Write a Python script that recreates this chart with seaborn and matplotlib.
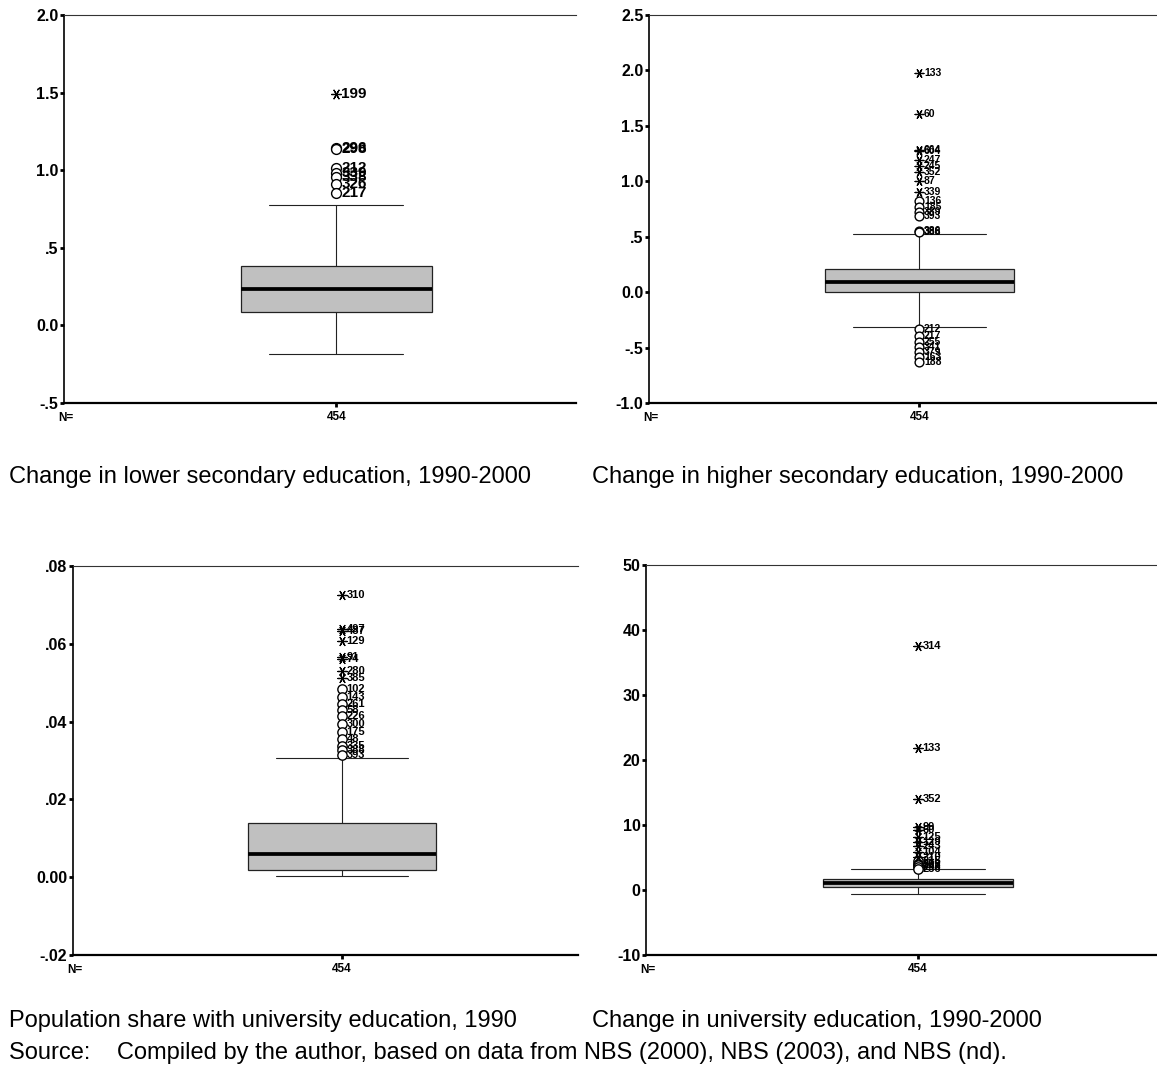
import matplotlib
matplotlib.use("Agg")
import matplotlib.pyplot as plt
import seaborn as sns

W, H = 1157, 1081

# --- data (whislo, q1, median, q3, whishi) ---
low_sec_stats = [-0.186, 0.089, 0.232, 0.385, 0.777]
low_sec_out_vals = [1.14, 1.138, 1.016, 0.98, 0.958, 0.913, 0.851]
low_sec_out_labels = ["296", "298", "212", "339", "338", "326", "217"]
low_sec_ext_vals = [1.488]
low_sec_ext_labels = ["199"]
low_sec_ticks = [-0.5, 0.0, 0.5, 1.0, 1.5, 2.0]
low_sec_ticklabels = ["-.5", "0.0", ".5", "1.0", "1.5", "2.0"]

high_sec_stats = [-0.318, 0.0, 0.096, 0.213, 0.528]
high_sec_out_vals = [0.823, 0.765, 0.72, 0.69, 0.553, 0.546,
                     -0.336, -0.394, -0.453, -0.498, -0.543, -0.588, -0.628]
high_sec_out_labels = ["136", "185", "389", "393", "386", "388",
                       "212", "217", "255", "341", "379", "163", "188"]
high_sec_ext_vals = [1.978, 1.603, 1.279, 1.273, 1.19, 1.14, 1.08, 1.003, 0.90]
high_sec_ext_labels = ["133", "60", "664", "604", "247", "245", "352", "87", "339"]
high_sec_ticks = [-1.0, -0.5, 0.0, 0.5, 1.0, 1.5, 2.0, 2.5]
high_sec_ticklabels = ["-1.0", "-.5", "0.0", ".5", "1.0", "1.5", "2.0", "2.5"]

univ90_stats = [0.00026, 0.00188, 0.00599, 0.01394, 0.0307]
univ90_out_vals = [0.0483, 0.0462, 0.0445, 0.043, 0.0415, 0.0394,
                   0.0372, 0.0355, 0.0338, 0.0327, 0.0315]
univ90_out_labels = ["102", "143", "261", "58", "226", "300",
                     "175", "48", "335", "388", "393"]
univ90_ext_vals = [0.0725, 0.0638, 0.0634, 0.0606, 0.0566, 0.0562, 0.0529, 0.0513]
univ90_ext_labels = ["310", "497", "487", "129", "91", "74", "280", "385"]
univ90_ticks = [-0.02, 0.0, 0.02, 0.04, 0.06, 0.08]
univ90_ticklabels = ["-.02", "0.00", ".02", ".04", ".06", ".08"]

univ_chg_stats = [-0.56, 0.51, 1.13, 1.64, 3.23]
univ_chg_out_vals = [4.4, 4.0, 3.85, 3.5, 3.3]
univ_chg_out_labels = ["215", "309", "223", "298", "236"]
univ_chg_ext_vals = [37.6, 21.8, 14.07, 9.75, 9.3, 8.2, 7.4, 6.7, 5.9, 5.1]
univ_chg_ext_labels = ["314", "133", "352", "99", "60", "125", "129", "243", "104", "210"]
univ_chg_ticks = [-10, 0, 10, 20, 30, 40, 50]
univ_chg_ticklabels = ["-10", "0", "10", "20", "30", "40", "50"]

n_cases = "454"

titles = [
    "Change in lower secondary education, 1990-2000",
    "Change in higher secondary education, 1990-2000",
    "Population share with university education, 1990",
    "Change in university education, 1990-2000",
]
source_note = "Source:    Compiled by the author, based on data from NBS (2000), NBS (2003), and NBS (nd)."

sns.set_theme(style="white")
plt.rcParams["font.family"] = ["Liberation Sans", "DejaVu Sans"]
plt.rcParams.update({
    "text.color": "black",
    "xtick.color": "black",
    "ytick.color": "black",
    "axes.edgecolor": "black",
})

fig = plt.figure(figsize=(W / 100, H / 100), dpi=100)


def px_axes(left, top, right, bottom):
    return fig.add_axes([left / W, 1 - bottom / H, (right - left) / W, (bottom - top) / H])


def draw_panel(ax, stats, out_vals, out_labels, ext_vals, ext_labels,
               ticks, ticklabels, lab_size, mk_size):
    pos = 0.532
    bstats = [dict(whislo=stats[0], q1=stats[1], med=stats[2], q3=stats[3],
                   whishi=stats[4], fliers=[])]
    ax.bxp(bstats, positions=[pos], widths=0.372, capwidths=0.262,
           patch_artist=True, showfliers=False,
           boxprops=dict(facecolor="#c0c0c0", edgecolor="#222222", linewidth=0.9),
           medianprops=dict(color="black", linewidth=2.7),
           whiskerprops=dict(color="#222222", linewidth=0.8),
           capprops=dict(color="#222222", linewidth=0.8))
    # circles = outliers, asterisks = extreme values (SPSS convention)
    sns.scatterplot(x=[pos] * len(out_vals), y=out_vals, ax=ax, marker="o",
                    s=mk_size, facecolor="white", edgecolor="black",
                    linewidth=1.0, zorder=4)
    sns.scatterplot(x=[pos] * len(ext_vals), y=ext_vals, ax=ax, marker=(6, 2, 90),
                    s=mk_size, color="black", linewidth=0.9, zorder=4)
    for v, lbl in list(zip(out_vals, out_labels)) + list(zip(ext_vals, ext_labels)):
        ax.annotate(lbl, (pos, v), xytext=(3.5, 0), textcoords="offset points",
                    ha="left", va="center", fontsize=lab_size, fontweight="bold")
    ax.set_xlim(0, 1)
    ax.set_ylim(ticks[0], ticks[-1])
    ax.set_yticks(ticks)
    ax.set_yticklabels(ticklabels)
    ax.set_xticks([pos])
    ax.set_xticklabels([n_cases])
    ax.tick_params(axis="y", direction="out", length=3, width=2, pad=1,
                   labelsize=11.5, left=True)
    ax.tick_params(axis="x", direction="out", length=3, width=2, pad=3,
                   labelsize=8.5, bottom=True)
    for t in ax.get_yticklabels() + ax.get_xticklabels():
        t.set_fontweight("bold")
    ax.annotate("N=", (0, 0), xycoords="axes fraction", xytext=(1, -11),
                textcoords="offset points", ha="center", va="center",
                fontsize=8.5, fontweight="bold")
    ax.spines["right"].set_visible(False)
    ax.spines["left"].set_linewidth(1.2)
    ax.spines["bottom"].set_linewidth(1.6)
    ax.spines["top"].set_linewidth(0.8)
    ax.spines["top"].set_color("#333333")
    ax.set_xlabel("")
    ax.set_ylabel("")


ax1 = px_axes(64, 15, 576, 403)
draw_panel(ax1, low_sec_stats, low_sec_out_vals, low_sec_out_labels,
           low_sec_ext_vals, low_sec_ext_labels, low_sec_ticks, low_sec_ticklabels,
           11, 50)

ax2 = px_axes(649, 15, 1157, 403)
draw_panel(ax2, high_sec_stats, high_sec_out_vals, high_sec_out_labels,
           high_sec_ext_vals, high_sec_ext_labels, high_sec_ticks, high_sec_ticklabels,
           7.5, 40)

ax3 = px_axes(73, 566, 578, 955)
draw_panel(ax3, univ90_stats, univ90_out_vals, univ90_out_labels,
           univ90_ext_vals, univ90_ext_labels, univ90_ticks, univ90_ticklabels,
           8, 45)

ax4 = px_axes(646, 565, 1157, 955)
draw_panel(ax4, univ_chg_stats, univ_chg_out_vals, univ_chg_out_labels,
           univ_chg_ext_vals, univ_chg_ext_labels, univ_chg_ticks, univ_chg_ticklabels,
           8, 45)

title_size = 17
fig.text(9 / W, 1 - 483 / H, titles[0], ha="left", va="baseline", fontsize=title_size)
fig.text(592 / W, 1 - 483 / H, titles[1], ha="left", va="baseline", fontsize=title_size)
fig.text(9 / W, 1 - 1027 / H, titles[2], ha="left", va="baseline", fontsize=title_size)
fig.text(592 / W, 1 - 1027 / H, titles[3], ha="left", va="baseline", fontsize=title_size)
fig.text(9 / W, 1 - 1059 / H, source_note, ha="left", va="baseline", fontsize=title_size)

fig.savefig("out.png", dpi=100)
